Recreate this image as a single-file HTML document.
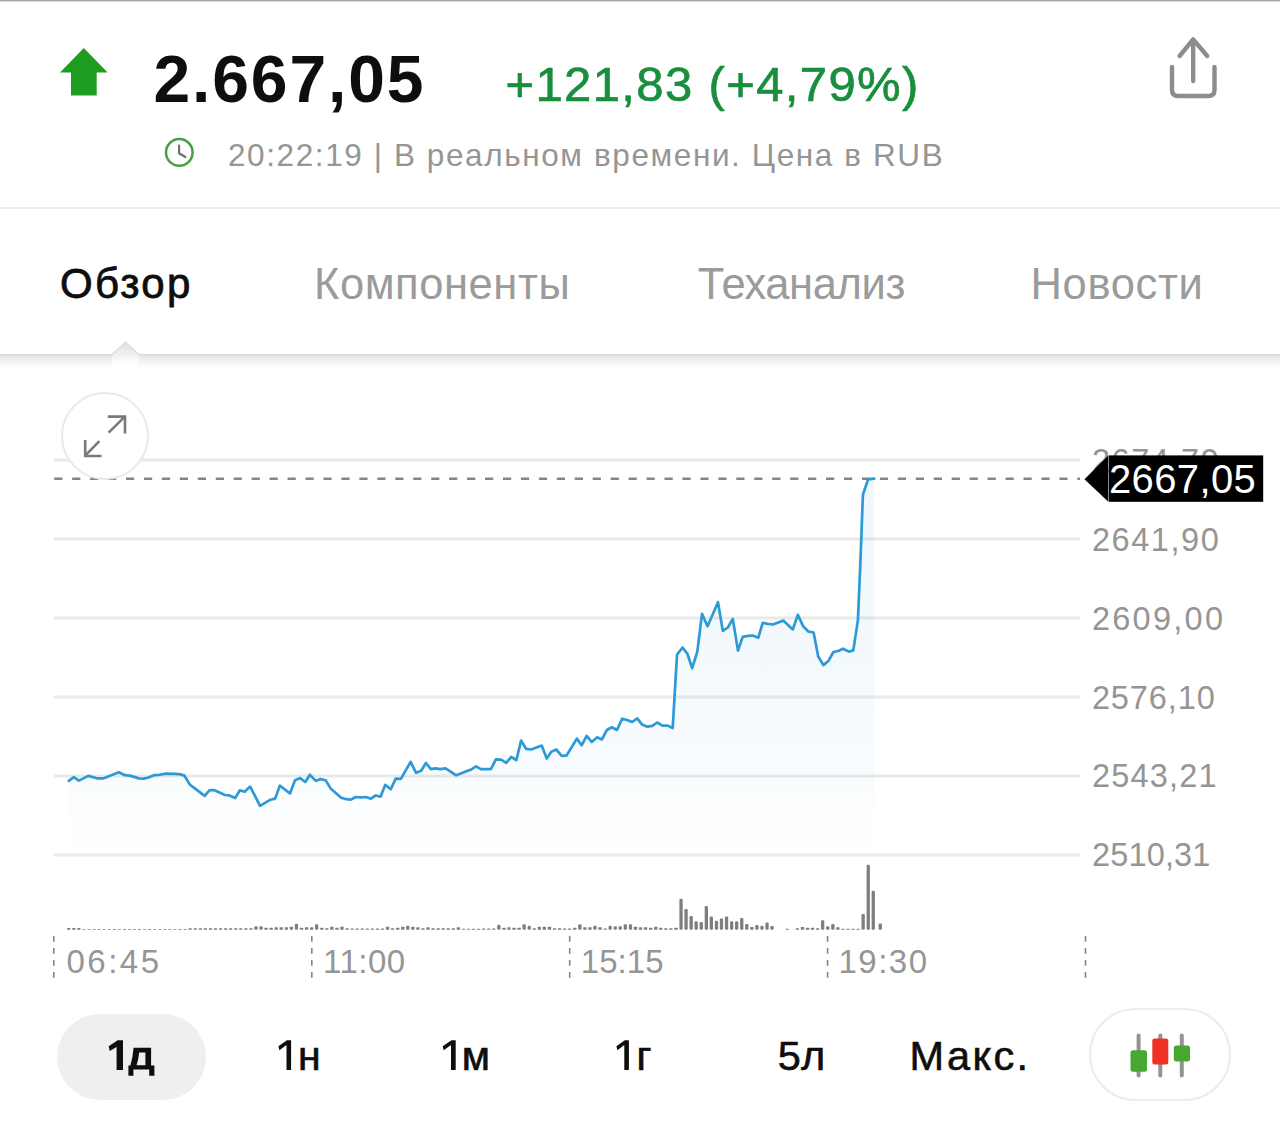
<!DOCTYPE html>
<html lang="ru">
<head>
<meta charset="utf-8">
<title>Индекс — обзор</title>
<style>
html,body{margin:0;padding:0;background:#fff;}
body{width:1280px;height:1141px;position:relative;overflow:hidden;font-family:"Liberation Sans",sans-serif;}
.t{position:absolute;margin:0;padding:0;line-height:1;white-space:nowrap;font-weight:400;font-family:"Liberation Sans",sans-serif;}
.abs{position:absolute;}
#topline{left:0;top:0;width:1280px;height:1px;background:#a4a4a4;}
#topline2{left:0;top:1px;width:1280px;height:1px;background:#dcdcdc;}
#sep{left:0;top:207px;width:1280px;height:2px;background:#ececec;}
#tabs{left:0;top:209px;width:1280px;height:145px;background:#fff;}
#tabshadow{left:0;top:354px;width:1280px;height:14px;background:linear-gradient(to bottom,#d8d8d8 0px,#e2e2e2 1.5px,#e9e9e9 3px,#f4f4f4 8px,#ffffff 14px);}
#pill1{left:57px;top:1014px;width:149px;height:86px;border-radius:43px;background:#efefef;}
#pill2{left:1089px;top:1008px;width:138px;height:89px;border-radius:47px;border:2.5px solid #ececec;background:#fff;}
#expand{left:61px;top:392px;width:84px;height:84px;border-radius:50%;border:2px solid #e9e9e9;background:#fff;}
svg{position:absolute;left:0;top:0;overflow:visible;}
</style>
</head>
<body>
<div class="abs" id="topline"></div><div class="abs" id="topline2"></div>

<header>
<svg width="1280" height="208" viewBox="0 0 1280 208" aria-hidden="true">
  <polygon points="83.8,48 107.6,72.4 96.7,72.4 96.7,95.6 71,95.6 71,72.4 60,72.4" fill="#1e9d20"/>
  <circle cx="179.3" cy="152.4" r="13.3" fill="none" stroke="#47a044" stroke-width="2.5"/>
  <path d="M179.1,145.6 V153.3 L185.4,157" fill="none" stroke="#707070" stroke-width="2.2" stroke-linecap="round" stroke-linejoin="round"/>
  <g fill="none" stroke="#8c8c8c" stroke-width="4.4" stroke-linecap="round" stroke-linejoin="round">
    <path d="M1179.6,56 L1193.2,39.4 L1207.2,56"/>
    <path d="M1193.2,41 V81"/>
    <path d="M1172,67 V90 Q1172,96 1178,96 H1208.4 Q1214.5,96 1214.5,90 V67"/>
  </g>
</svg>
<h1 class="t " id="price" style="left:153.5px;top:46.0px;font-size:66px;letter-spacing:1.86px;color:#0e0e0e;font-weight:700;">2.667,05</h1>
<div class="t " id="change" style="left:505.5px;top:60.2px;font-size:49px;letter-spacing:1.37px;color:#198e3d;-webkit-text-stroke:0.7px #198e3d;">+121,83 (+4,79%)</div>
<div class="t " id="sub" style="left:228.0px;top:140.0px;font-size:31.5px;letter-spacing:1.6px;color:#959595;">20:22:19 | В реальном времени. Цена в RUB</div>
</header>

<div class="abs" id="sep"></div>
<nav>
<div class="abs" id="tabs"></div>
<div class="abs" id="tabshadow"></div>
<svg width="1280" height="380" viewBox="0 0 1280 380" aria-hidden="true">
  <defs><linearGradient id="ng" gradientUnits="userSpaceOnUse" x1="0" y1="342" x2="0" y2="368"><stop offset="0" stop-color="#e0e0e0"/><stop offset="0.46" stop-color="#efefef"/><stop offset="0.7" stop-color="#fafafa"/><stop offset="1" stop-color="#ffffff"/></linearGradient></defs>
  <polygon points="111.9,355 125.5,342 139,355 139,368 111.9,368" fill="url(#ng)"/>
  <path d="M111.5,355.2 L125.5,342 L139.4,355.2" fill="none" stroke="#dcdcdc" stroke-width="1.4" stroke-linejoin="round"/>
</svg>
<div class="t " id="tab1" style="left:60.0px;top:262.8px;font-size:42px;letter-spacing:2.25px;color:#0e0e0e;-webkit-text-stroke:0.8px #0e0e0e;">Обзор</div>
<div class="t " id="tab2" style="left:314.0px;top:262.8px;font-size:43.5px;letter-spacing:0.56px;color:#9b9b9b;">Компоненты</div>
<div class="t " id="tab3" style="left:697.8px;top:262.8px;font-size:43.5px;letter-spacing:-0.38px;color:#9b9b9b;">Теханализ</div>
<div class="t " id="tab4" style="left:1030.5px;top:262.8px;font-size:43.5px;letter-spacing:0.67px;color:#9b9b9b;">Новости</div>
</nav>

<main>
<svg width="1280" height="1000" viewBox="0 0 1280 1000" aria-hidden="true">
  <defs>
    <linearGradient id="ag" gradientUnits="userSpaceOnUse" x1="0" y1="478" x2="0" y2="849">
      <stop offset="0" stop-color="#3a9ad6" stop-opacity="0.075"/>
      <stop offset="0.45" stop-color="#3a9ad6" stop-opacity="0.065"/>
      <stop offset="0.8" stop-color="#3a9ad6" stop-opacity="0.03"/>
      <stop offset="1" stop-color="#3a9ad6" stop-opacity="0.005"/>
    </linearGradient>
  </defs>
  <g stroke="#e9e9e9" stroke-width="3">
    <path d="M54,460 H1080 M54,539 H1080 M54,618 H1080 M54,697 H1080 M54,776 H1080 M54,855 H1080"/>
  </g>
  <path d="M68.8,849 L68.8,780.9 L73.8,777.2 L78.9,780.6 L88.3,775.9 L96.9,778.3 L103.1,778.4 L118.8,772.2 L125.0,775.2 L129.7,775.6 L139.0,778.4 L143.8,778.6 L148.4,777.5 L153.9,775.2 L158.6,775.0 L165.6,773.6 L175.0,773.9 L180.5,774.4 L184.4,775.6 L189.8,784.5 L193.8,787.7 L204.7,795.9 L209.4,790.3 L214.0,790.0 L225.0,795.0 L228.9,795.3 L235.2,798.1 L239.8,790.3 L244.6,791.8 L250.2,786.6 L260.0,805.9 L270.5,799.7 L275.2,798.6 L279.8,785.6 L290.0,793.4 L295.0,780.2 L300.2,778.1 L305.3,782.0 L309.8,774.7 L315.8,780.9 L320.5,779.1 L325.6,780.2 L330.6,788.4 L341.2,797.7 L346.2,799.2 L350.9,799.7 L355.6,797.0 L361.1,797.3 L365.8,797.0 L370.9,798.6 L375.6,795.5 L380.6,796.6 L385.3,784.8 L390.8,789.2 L395.8,778.6 L400.9,778.9 L410.6,761.9 L416.1,772.8 L421.2,770.8 L425.9,763.0 L430.9,769.2 L435.5,768.4 L440.2,769.1 L445.6,768.4 L456.2,775.3 L465.9,771.4 L470.6,769.8 L476.1,766.4 L480.8,769.1 L490.9,769.1 L495.9,759.4 L501.1,759.7 L506.2,762.8 L511.2,757.0 L516.4,760.0 L521.1,740.6 L526.1,748.8 L531.2,749.5 L541.7,745.6 L546.7,758.6 L551.1,751.9 L556.2,749.5 L561.7,755.8 L566.7,755.3 L576.9,738.6 L581.6,745.3 L586.7,735.9 L591.7,742.0 L597.2,737.3 L601.9,739.4 L606.9,730.0 L611.7,727.3 L617.0,730.0 L622.1,718.7 L627.0,720.0 L632.2,722.0 L637.2,718.4 L641.9,724.4 L647.3,726.7 L652.3,725.9 L657.2,722.5 L662.5,725.6 L667.7,725.6 L672.7,728.0 L677.0,654.8 L682.5,647.5 L687.5,654.0 L692.2,668.1 L697.3,651.7 L702.0,613.8 L707.5,626.2 L718.0,602.2 L722.8,630.9 L727.8,627.5 L732.8,618.9 L738.0,650.6 L742.7,636.9 L748.1,635.8 L752.8,635.6 L758.3,637.7 L762.7,622.8 L767.7,623.9 L773.1,624.4 L783.3,620.5 L792.8,629.4 L797.9,614.8 L803.1,626.1 L808.3,631.5 L813.6,632.5 L818.2,656.5 L823.4,665.1 L828.6,660.7 L833.4,652.0 L838.2,651.0 L843.1,648.7 L848.8,651.6 L853.3,650.4 L857.9,620.1 L860.4,562.3 L862.9,494.7 L868.1,479.3 L874.3,478.7 L874.3,849 Z" fill="url(#ag)"/>
  <path d="M54.2,478.8 H1080" stroke="#858585" stroke-width="2.5" stroke-dasharray="8.2 9.75" fill="none"/>
  <polyline points="68.8,780.9 73.8,777.2 78.9,780.6 88.3,775.9 96.9,778.3 103.1,778.4 118.8,772.2 125.0,775.2 129.7,775.6 139.0,778.4 143.8,778.6 148.4,777.5 153.9,775.2 158.6,775.0 165.6,773.6 175.0,773.9 180.5,774.4 184.4,775.6 189.8,784.5 193.8,787.7 204.7,795.9 209.4,790.3 214.0,790.0 225.0,795.0 228.9,795.3 235.2,798.1 239.8,790.3 244.6,791.8 250.2,786.6 260.0,805.9 270.5,799.7 275.2,798.6 279.8,785.6 290.0,793.4 295.0,780.2 300.2,778.1 305.3,782.0 309.8,774.7 315.8,780.9 320.5,779.1 325.6,780.2 330.6,788.4 341.2,797.7 346.2,799.2 350.9,799.7 355.6,797.0 361.1,797.3 365.8,797.0 370.9,798.6 375.6,795.5 380.6,796.6 385.3,784.8 390.8,789.2 395.8,778.6 400.9,778.9 410.6,761.9 416.1,772.8 421.2,770.8 425.9,763.0 430.9,769.2 435.5,768.4 440.2,769.1 445.6,768.4 456.2,775.3 465.9,771.4 470.6,769.8 476.1,766.4 480.8,769.1 490.9,769.1 495.9,759.4 501.1,759.7 506.2,762.8 511.2,757.0 516.4,760.0 521.1,740.6 526.1,748.8 531.2,749.5 541.7,745.6 546.7,758.6 551.1,751.9 556.2,749.5 561.7,755.8 566.7,755.3 576.9,738.6 581.6,745.3 586.7,735.9 591.7,742.0 597.2,737.3 601.9,739.4 606.9,730.0 611.7,727.3 617.0,730.0 622.1,718.7 627.0,720.0 632.2,722.0 637.2,718.4 641.9,724.4 647.3,726.7 652.3,725.9 657.2,722.5 662.5,725.6 667.7,725.6 672.7,728.0 677.0,654.8 682.5,647.5 687.5,654.0 692.2,668.1 697.3,651.7 702.0,613.8 707.5,626.2 718.0,602.2 722.8,630.9 727.8,627.5 732.8,618.9 738.0,650.6 742.7,636.9 748.1,635.8 752.8,635.6 758.3,637.7 762.7,622.8 767.7,623.9 773.1,624.4 783.3,620.5 792.8,629.4 797.9,614.8 803.1,626.1 808.3,631.5 813.6,632.5 818.2,656.5 823.4,665.1 828.6,660.7 833.4,652.0 838.2,651.0 843.1,648.7 848.8,651.6 853.3,650.4 857.9,620.1 860.4,562.3 862.9,494.7 868.1,479.3 874.3,478.7" fill="none" stroke="#2d9ad6" stroke-width="2.7" stroke-linejoin="round" stroke-linecap="round"/>
  <g fill="#7c7e80">
<rect x="67.1" y="928.1" width="3.3" height="1.6" rx="0.5"/>
<rect x="72.2" y="928.1" width="3.3" height="1.6" rx="0.5"/>
<rect x="77.2" y="928.1" width="3.3" height="1.6" rx="0.5"/>
<rect x="82.3" y="929.1" width="3.3" height="0.6" rx="0.5"/>
<rect x="87.3" y="929.1" width="3.3" height="0.6" rx="0.5"/>
<rect x="92.4" y="929.1" width="3.3" height="0.6" rx="0.5"/>
<rect x="97.5" y="929.1" width="3.3" height="0.6" rx="0.5"/>
<rect x="102.5" y="929.1" width="3.3" height="0.6" rx="0.5"/>
<rect x="107.6" y="929.1" width="3.3" height="0.6" rx="0.5"/>
<rect x="112.6" y="929.1" width="3.3" height="0.6" rx="0.5"/>
<rect x="117.7" y="929.1" width="3.3" height="0.6" rx="0.5"/>
<rect x="122.8" y="929.1" width="3.3" height="0.6" rx="0.5"/>
<rect x="127.8" y="929.1" width="3.3" height="0.6" rx="0.5"/>
<rect x="132.9" y="929.1" width="3.3" height="0.6" rx="0.5"/>
<rect x="137.9" y="929.1" width="3.3" height="0.6" rx="0.5"/>
<rect x="143.0" y="929.1" width="3.3" height="0.6" rx="0.5"/>
<rect x="148.1" y="929.1" width="3.3" height="0.6" rx="0.5"/>
<rect x="153.1" y="929.1" width="3.3" height="0.6" rx="0.5"/>
<rect x="158.2" y="929.1" width="3.3" height="0.6" rx="0.5"/>
<rect x="163.2" y="929.1" width="3.3" height="0.6" rx="0.5"/>
<rect x="168.3" y="929.1" width="3.3" height="0.6" rx="0.5"/>
<rect x="173.4" y="929.1" width="3.3" height="0.6" rx="0.5"/>
<rect x="178.4" y="929.1" width="3.3" height="0.6" rx="0.5"/>
<rect x="183.5" y="929.1" width="3.3" height="0.6" rx="0.5"/>
<rect x="188.5" y="928.3" width="3.3" height="1.4" rx="0.5"/>
<rect x="193.6" y="928.3" width="3.3" height="1.4" rx="0.5"/>
<rect x="198.7" y="928.3" width="3.3" height="1.4" rx="0.5"/>
<rect x="203.7" y="928.3" width="3.3" height="1.4" rx="0.5"/>
<rect x="208.8" y="928.3" width="3.3" height="1.4" rx="0.5"/>
<rect x="213.8" y="928.3" width="3.3" height="1.4" rx="0.5"/>
<rect x="218.9" y="928.3" width="3.3" height="1.4" rx="0.5"/>
<rect x="224.0" y="928.3" width="3.3" height="1.4" rx="0.5"/>
<rect x="229.0" y="928.3" width="3.3" height="1.4" rx="0.5"/>
<rect x="234.1" y="928.3" width="3.3" height="1.4" rx="0.5"/>
<rect x="239.1" y="928.3" width="3.3" height="1.4" rx="0.5"/>
<rect x="244.2" y="928.3" width="3.3" height="1.4" rx="0.5"/>
<rect x="249.3" y="928.3" width="3.3" height="1.4" rx="0.5"/>
<rect x="254.3" y="926.2" width="3.3" height="3.5" rx="1.2"/>
<rect x="259.4" y="926.2" width="3.3" height="3.5" rx="1.2"/>
<rect x="264.4" y="927.7" width="3.3" height="2.0" rx="0.5"/>
<rect x="269.5" y="927.7" width="3.3" height="2.0" rx="0.5"/>
<rect x="274.6" y="927.2" width="3.3" height="2.5" rx="0.5"/>
<rect x="279.6" y="927.2" width="3.3" height="2.5" rx="0.5"/>
<rect x="284.7" y="927.2" width="3.3" height="2.5" rx="0.5"/>
<rect x="289.7" y="926.7" width="3.3" height="3.0" rx="0.5"/>
<rect x="294.8" y="923.7" width="3.3" height="6.0" rx="1.2"/>
<rect x="299.9" y="927.7" width="3.3" height="2.0" rx="0.5"/>
<rect x="304.9" y="927.2" width="3.3" height="2.5" rx="0.5"/>
<rect x="310.0" y="927.2" width="3.3" height="2.5" rx="0.5"/>
<rect x="315.0" y="924.2" width="3.3" height="5.5" rx="1.2"/>
<rect x="320.1" y="927.7" width="3.3" height="2.0" rx="0.5"/>
<rect x="325.2" y="928.2" width="3.3" height="1.5" rx="0.5"/>
<rect x="330.2" y="926.7" width="3.3" height="3.0" rx="0.5"/>
<rect x="335.3" y="927.7" width="3.3" height="2.0" rx="0.5"/>
<rect x="340.3" y="926.7" width="3.3" height="3.0" rx="0.5"/>
<rect x="345.4" y="928.2" width="3.3" height="1.5" rx="0.5"/>
<rect x="350.5" y="928.5" width="3.3" height="1.2" rx="0.5"/>
<rect x="355.5" y="928.5" width="3.3" height="1.2" rx="0.5"/>
<rect x="360.6" y="928.5" width="3.3" height="1.2" rx="0.5"/>
<rect x="365.6" y="928.5" width="3.3" height="1.2" rx="0.5"/>
<rect x="370.7" y="928.5" width="3.3" height="1.2" rx="0.5"/>
<rect x="375.8" y="928.5" width="3.3" height="1.2" rx="0.5"/>
<rect x="380.8" y="928.5" width="3.3" height="1.2" rx="0.5"/>
<rect x="385.9" y="926.7" width="3.3" height="3.0" rx="0.5"/>
<rect x="390.9" y="928.2" width="3.3" height="1.5" rx="0.5"/>
<rect x="396.0" y="927.7" width="3.3" height="2.0" rx="0.5"/>
<rect x="401.1" y="926.7" width="3.3" height="3.0" rx="0.5"/>
<rect x="406.1" y="925.7" width="3.3" height="4.0" rx="1.2"/>
<rect x="411.2" y="926.7" width="3.3" height="3.0" rx="0.5"/>
<rect x="416.2" y="927.2" width="3.3" height="2.5" rx="0.5"/>
<rect x="421.3" y="928.2" width="3.3" height="1.5" rx="0.5"/>
<rect x="426.4" y="927.2" width="3.3" height="2.5" rx="0.5"/>
<rect x="431.4" y="928.2" width="3.3" height="1.5" rx="0.5"/>
<rect x="436.5" y="928.2" width="3.3" height="1.5" rx="0.5"/>
<rect x="441.5" y="928.2" width="3.3" height="1.5" rx="0.5"/>
<rect x="446.6" y="928.2" width="3.3" height="1.5" rx="0.5"/>
<rect x="451.7" y="928.2" width="3.3" height="1.5" rx="0.5"/>
<rect x="456.7" y="927.2" width="3.3" height="2.5" rx="0.5"/>
<rect x="461.8" y="928.7" width="3.3" height="1.0" rx="0.5"/>
<rect x="466.8" y="928.7" width="3.3" height="1.0" rx="0.5"/>
<rect x="471.9" y="928.7" width="3.3" height="1.0" rx="0.5"/>
<rect x="477.0" y="928.7" width="3.3" height="1.0" rx="0.5"/>
<rect x="482.0" y="928.5" width="3.3" height="1.2" rx="0.5"/>
<rect x="487.1" y="928.5" width="3.3" height="1.2" rx="0.5"/>
<rect x="492.1" y="928.5" width="3.3" height="1.2" rx="0.5"/>
<rect x="497.2" y="924.7" width="3.3" height="5.0" rx="1.2"/>
<rect x="502.3" y="927.7" width="3.3" height="2.0" rx="0.5"/>
<rect x="507.3" y="927.2" width="3.3" height="2.5" rx="0.5"/>
<rect x="512.4" y="927.7" width="3.3" height="2.0" rx="0.5"/>
<rect x="517.4" y="927.7" width="3.3" height="2.0" rx="0.5"/>
<rect x="522.5" y="924.2" width="3.3" height="5.5" rx="1.2"/>
<rect x="527.6" y="925.7" width="3.3" height="4.0" rx="1.2"/>
<rect x="532.6" y="928.2" width="3.3" height="1.5" rx="0.5"/>
<rect x="537.7" y="926.7" width="3.3" height="3.0" rx="0.5"/>
<rect x="542.7" y="926.7" width="3.3" height="3.0" rx="0.5"/>
<rect x="547.8" y="926.7" width="3.3" height="3.0" rx="0.5"/>
<rect x="552.9" y="928.2" width="3.3" height="1.5" rx="0.5"/>
<rect x="557.9" y="928.2" width="3.3" height="1.5" rx="0.5"/>
<rect x="563.0" y="928.5" width="3.3" height="1.2" rx="0.5"/>
<rect x="568.0" y="928.5" width="3.3" height="1.2" rx="0.5"/>
<rect x="573.1" y="927.7" width="3.3" height="2.0" rx="0.5"/>
<rect x="578.2" y="924.2" width="3.3" height="5.5" rx="1.2"/>
<rect x="583.2" y="927.2" width="3.3" height="2.5" rx="0.5"/>
<rect x="588.3" y="927.2" width="3.3" height="2.5" rx="0.5"/>
<rect x="593.3" y="925.7" width="3.3" height="4.0" rx="1.2"/>
<rect x="598.4" y="927.2" width="3.3" height="2.5" rx="0.5"/>
<rect x="603.5" y="928.5" width="3.3" height="1.2" rx="0.5"/>
<rect x="608.5" y="925.7" width="3.3" height="4.0" rx="1.2"/>
<rect x="613.6" y="926.2" width="3.3" height="3.5" rx="1.2"/>
<rect x="618.6" y="926.2" width="3.3" height="3.5" rx="1.2"/>
<rect x="623.7" y="924.2" width="3.3" height="5.5" rx="1.2"/>
<rect x="628.8" y="924.2" width="3.3" height="5.5" rx="1.2"/>
<rect x="633.8" y="926.7" width="3.3" height="3.0" rx="0.5"/>
<rect x="638.9" y="927.2" width="3.3" height="2.5" rx="0.5"/>
<rect x="643.9" y="927.2" width="3.3" height="2.5" rx="0.5"/>
<rect x="649.0" y="927.7" width="3.3" height="2.0" rx="0.5"/>
<rect x="654.1" y="926.7" width="3.3" height="3.0" rx="0.5"/>
<rect x="659.1" y="927.7" width="3.3" height="2.0" rx="0.5"/>
<rect x="664.2" y="928.2" width="3.3" height="1.5" rx="0.5"/>
<rect x="669.2" y="928.2" width="3.3" height="1.5" rx="0.5"/>
<rect x="674.3" y="927.7" width="3.3" height="2.0" rx="0.5"/>
<rect x="679.4" y="898.8" width="3.3" height="30.9" rx="1.2"/>
<rect x="684.4" y="909.1" width="3.3" height="20.6" rx="1.2"/>
<rect x="689.5" y="916.0" width="3.3" height="13.7" rx="1.2"/>
<rect x="694.5" y="921.3" width="3.3" height="8.4" rx="1.2"/>
<rect x="699.6" y="922.0" width="3.3" height="7.7" rx="1.2"/>
<rect x="704.7" y="906.1" width="3.3" height="23.6" rx="1.2"/>
<rect x="709.7" y="916.6" width="3.3" height="13.1" rx="1.2"/>
<rect x="714.8" y="920.7" width="3.3" height="9.0" rx="1.2"/>
<rect x="719.8" y="918.5" width="3.3" height="11.2" rx="1.2"/>
<rect x="724.9" y="916.6" width="3.3" height="13.1" rx="1.2"/>
<rect x="730.0" y="921.3" width="3.3" height="8.4" rx="1.2"/>
<rect x="735.0" y="921.3" width="3.3" height="8.4" rx="1.2"/>
<rect x="740.1" y="917.9" width="3.3" height="11.8" rx="1.2"/>
<rect x="745.1" y="923.9" width="3.3" height="5.8" rx="1.2"/>
<rect x="750.2" y="926.9" width="3.3" height="2.8" rx="0.5"/>
<rect x="755.3" y="925.0" width="3.3" height="4.7" rx="1.2"/>
<rect x="760.3" y="925.8" width="3.3" height="3.9" rx="1.2"/>
<rect x="765.4" y="922.6" width="3.3" height="7.1" rx="1.2"/>
<rect x="770.4" y="926.0" width="3.3" height="3.8" rx="1.2"/>
<rect x="785.6" y="928.7" width="3.3" height="1.0" rx="0.5"/>
<rect x="795.7" y="928.2" width="3.3" height="1.5" rx="0.5"/>
<rect x="800.8" y="926.9" width="3.3" height="2.8" rx="0.5"/>
<rect x="805.9" y="927.8" width="3.3" height="1.9" rx="0.5"/>
<rect x="810.9" y="927.8" width="3.3" height="1.9" rx="0.5"/>
<rect x="816.0" y="928.2" width="3.3" height="1.5" rx="0.5"/>
<rect x="821.0" y="920.3" width="3.3" height="9.4" rx="1.2"/>
<rect x="826.1" y="926.3" width="3.3" height="3.4" rx="1.2"/>
<rect x="831.2" y="924.1" width="3.3" height="5.6" rx="1.2"/>
<rect x="836.2" y="927.3" width="3.3" height="2.4" rx="0.5"/>
<rect x="841.3" y="928.7" width="3.3" height="1.0" rx="0.5"/>
<rect x="846.3" y="928.7" width="3.3" height="1.0" rx="0.5"/>
<rect x="851.4" y="928.7" width="3.3" height="1.0" rx="0.5"/>
<rect x="856.5" y="928.7" width="3.3" height="1.0" rx="0.5"/>
<rect x="861.5" y="914.1" width="3.3" height="15.6" rx="1.2"/>
<rect x="866.6" y="864.8" width="3.3" height="64.9" rx="1.2"/>
<rect x="871.6" y="890.7" width="3.3" height="39.0" rx="1.2"/>
<rect x="878.6" y="923.5" width="3.3" height="6.2" rx="1.2"/>
  </g>
  <g stroke="#858585" stroke-width="1.6" stroke-dasharray="5.8 6.2" fill="none">
    <path d="M53.8,936 V978 M311.8,936 V978 M569.7,936 V978 M827.6,936 V978 M1085.5,936 V978"/>
  </g>
</svg>
<div class="t " id="y0" style="left:1091.9px;top:444.7px;font-size:32.5px;letter-spacing:1.57px;color:#959595;">2674,79</div>
<svg width="1280" height="520" viewBox="0 0 1280 520" aria-hidden="true">
  <polygon points="1084.5,479.2 1108.3,455.4 1108.3,501.8" fill="#000"/>
  <rect x="1108.8" y="455.4" width="154.4" height="46.4" fill="#000"/>
</svg>
<div class="t " id="tag" style="left:1109.0px;top:458.7px;font-size:40px;letter-spacing:0.37px;color:#ffffff;">2667,05</div>
<div class="t " id="y1" style="left:1091.9px;top:523.8px;font-size:32.5px;letter-spacing:1.57px;color:#959595;">2641,90</div>
<div class="t " id="y2" style="left:1091.9px;top:602.8px;font-size:32.5px;letter-spacing:2.28px;color:#959595;">2609,00</div>
<div class="t " id="y3" style="left:1091.9px;top:681.6px;font-size:32.5px;letter-spacing:0.9px;color:#959595;">2576,10</div>
<div class="t " id="y4" style="left:1091.9px;top:760.3px;font-size:32.5px;letter-spacing:1.22px;color:#959595;">2543,21</div>
<div class="t " id="y5" style="left:1091.9px;top:839.3px;font-size:32.5px;letter-spacing:0.18px;color:#959595;">2510,31</div>
<div class="t " id="x0" style="left:66.5px;top:944.5px;font-size:33px;letter-spacing:2.5px;color:#959595;">06:45</div>
<div class="t " id="x1" style="left:323.0px;top:944.5px;font-size:33px;letter-spacing:0.5px;color:#959595;">11:00</div>
<div class="t " id="x2" style="left:580.8px;top:944.5px;font-size:33px;letter-spacing:0.03px;color:#959595;">15:15</div>
<div class="t " id="x3" style="left:838.5px;top:944.5px;font-size:33px;letter-spacing:1.5px;color:#959595;">19:30</div>
<div class="abs" id="expand"></div>
<svg width="200" height="500" viewBox="0 0 200 500" aria-hidden="true">
  <g fill="none" stroke="#7a7a7a" stroke-width="2.6" stroke-linecap="butt" stroke-linejoin="miter">
    <path d="M108.6,432.6 L124.6,416.8"/>
    <path d="M107.8,416.6 H125 V433.4"/>
    <path d="M99.4,441.2 L85.4,455.4"/>
    <path d="M85.2,440 V456 H101.6"/>
  </g>
</svg>
</main>

<footer>
<div class="abs" id="pill1"></div>
<svg width="1280" height="1141" viewBox="0 0 1280 1141" aria-hidden="true">
  <g fill="#0e0e0e">
    <path fill-rule="evenodd" d="M133.6,1047.8 H151.1 V1065.4 H154.4 V1075.7 H149.2 V1069.4 H133.4 V1075.7 H128.4 V1065.4 H130.4 Q132.8,1058 133.6,1047.8 Z M139.2,1052.6 H145.4 V1065.2 H136.6 Q138.6,1059 139.2,1052.6 Z"/>
    <polygon points="123,1040.3 123,1070.1 116.6,1070.1 116.6,1046.9 109.7,1051.1 108.7,1046.3 117.6,1040.3"/>
    <polygon points="291.1,1040.3 291.1,1070 286.5,1070 286.5,1045 279.4,1050.2 278.4,1046.3 287,1040.3"/>
    <polygon points="455.7,1040.3 455.7,1070 451,1070 451,1045 443.7,1050.2 442.7,1046.3 451.5,1040.3"/>
    <polygon points="628.9,1040.3 628.9,1070 624.3,1070 624.3,1045 617.4,1050.2 616.4,1046.3 624.8,1040.3"/>
  </g>
</svg>
<div class="t " id="r2" style="left:297.9px;top:1036.0px;font-size:41px;letter-spacing:0px;color:#0e0e0e;-webkit-text-stroke:0.7px #0e0e0e;">н</div>
<div class="t " id="r3" style="left:461.8px;top:1036.0px;font-size:41px;letter-spacing:0px;color:#0e0e0e;-webkit-text-stroke:0.7px #0e0e0e;">м</div>
<div class="t " id="r4" style="left:636.5px;top:1036.0px;font-size:41px;letter-spacing:0px;color:#0e0e0e;-webkit-text-stroke:0.7px #0e0e0e;">г</div>
<div class="t " id="r5" style="left:777.7px;top:1035.0px;font-size:41.5px;letter-spacing:0.3px;color:#0e0e0e;-webkit-text-stroke:0.6px #0e0e0e;">5л</div>
<div class="t " id="r6" style="left:909.5px;top:1035.0px;font-size:41.5px;letter-spacing:2.38px;color:#0e0e0e;-webkit-text-stroke:0.6px #0e0e0e;">Макс.</div>
<div class="abs" id="pill2"></div>
<svg width="1280" height="1141" viewBox="0 0 1280 1141" aria-hidden="true">
  <g stroke="#939393" stroke-width="4" stroke-linecap="round">
    <path d="M1138.6,1035.4 V1075.4 M1160.3,1035.4 V1075.4 M1181.8,1035.4 V1075.4"/>
  </g>
  <rect x="1130.5" y="1050.2" width="16.5" height="21.6" rx="2.5" fill="#48a632"/>
  <rect x="1152.3" y="1038.5" width="16" height="26" rx="2.5" fill="#ee3124"/>
  <rect x="1173.8" y="1045.5" width="16.2" height="16" rx="2.5" fill="#48a632"/>
</svg>
</footer>
</body>
</html>
